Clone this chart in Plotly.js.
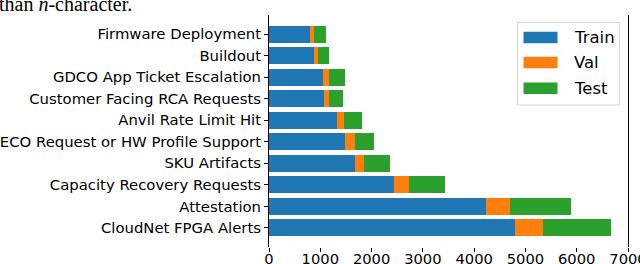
<!DOCTYPE html>
<html>
<head>
<meta charset="utf-8">
<script src="https://cdn.plot.ly/plotly-3.0.1.min.js"></script>
<style>
  html, body { margin: 0; padding: 0; background: #fff; }
  #chart { width: 640px; height: 264px; }
</style>
</head>
<body>
<div id="chart"></div>
<script>
// Categories listed bottom to top
const categories = [
  "CloudNet FPGA Alerts",
  "Attestation",
  "Capacity Recovery Requests",
  "SKU Artifacts",
  "ECO Request or HW Profile Support",
  "Anvil Rate Limit Hit",
  "Customer Facing RCA Requests",
  "GDCO App Ticket Escalation",
  "Buildout",
  "Firmware Deployment"
];
const trainValues = [4805, 4230, 2445, 1675, 1480, 1325, 1070, 1052, 877, 800];
const valValues   = [545, 465, 290, 170, 195, 130, 100, 117, 75, 78];
const testValues  = [1310, 1190, 695, 515, 375, 365, 273, 305, 215, 230];
const seriesNames = ["Train", "Val", "Test"];
const seriesColors = ["#1f77b4", "#ff7f0e", "#2ca02c"];
const xTickValues = [0, 1000, 2000, 3000, 4000, 5000, 6000, 7000];
const captionText = "than <i>n</i>-character.";

const seriesValues = [trainValues, valValues, testValues];

const traces = seriesNames.map((name, i) => ({
  type: "bar",
  orientation: "h",
  name: name,
  y: categories,
  x: seriesValues[i],
  width: 0.8,
  marker: { color: seriesColors[i], line: { width: 0 } },
  showlegend: false,
  hoverinfo: "x+y+name"
}));

// plot area geometry in pixels (for the hand-drawn legend)
const L = 269, R = 628, T = 15, B = 247;
const px = v => (v - L) / (R - L);
const py = v => 1 - (v - T) / (B - T);

const shapes = [{
  type: "rect", xref: "paper", yref: "paper",
  x0: px(517.5), x1: px(619.5), y0: py(105), y1: py(22.5),
  line: { color: "#d6d6d6", width: 1 }, fillcolor: "rgba(255,255,255,0.85)"
}];
const annotations = [];
const rowCenters = [37.5, 62.5, 88.2];
seriesNames.forEach((name, i) => {
  shapes.push({
    type: "rect", xref: "paper", yref: "paper",
    x0: px(523.5), x1: px(557.5),
    y0: py(rowCenters[i] + 5.8), y1: py(rowCenters[i] - 5.8),
    line: { width: 0 }, fillcolor: seriesColors[i]
  });
  annotations.push({
    xref: "paper", yref: "paper", x: px(571.5), y: py(rowCenters[i]),
    xanchor: "left", yanchor: "middle", showarrow: false,
    text: name, font: { family: "DejaVu Sans", size: 16.5, color: "#000" }
  });
});
annotations.push({
  xref: "paper", yref: "paper", x: px(-3), y: py(4),
  xanchor: "left", yanchor: "middle", showarrow: false,
  text: captionText, font: { family: "Liberation Serif", size: 20, color: "#000" }
});

const layout = {
  width: 640, height: 264,
  margin: { l: L, r: 640 - R, t: T, b: 264 - B, pad: 0 },
  paper_bgcolor: "#fff", plot_bgcolor: "#fff",
  barmode: "stack",
  showlegend: false,
  font: { family: "DejaVu Sans", size: 14.85, color: "#000" },
  xaxis: {
    range: [0, 7000], tickvals: xTickValues,
    ticks: "outside", ticklen: 4, tickwidth: 1, tickcolor: "#000",
    ticklabelstandoff: -6, ticklabeloverflow: "allow",
    showgrid: false, zeroline: false, showline: false,
    tickfont: { family: "DejaVu Sans", size: 14.7, color: "#000" }
  },
  yaxis: {
    type: "category", categoryorder: "array", categoryarray: categories,
    range: [-0.89, 9.89],
    ticks: "outside", ticklen: 4, tickwidth: 1, tickcolor: "#000",
    showline: true, linecolor: "#000", linewidth: 1, mirror: true,
    showgrid: false, zeroline: false,
    tickfont: { family: "DejaVu Sans", size: 14.85, color: "#000" }
  },
  shapes: shapes,
  annotations: annotations
};

Plotly.newPlot("chart", traces, layout, { staticPlot: true, displayModeBar: false });
</script>
</body>
</html>
